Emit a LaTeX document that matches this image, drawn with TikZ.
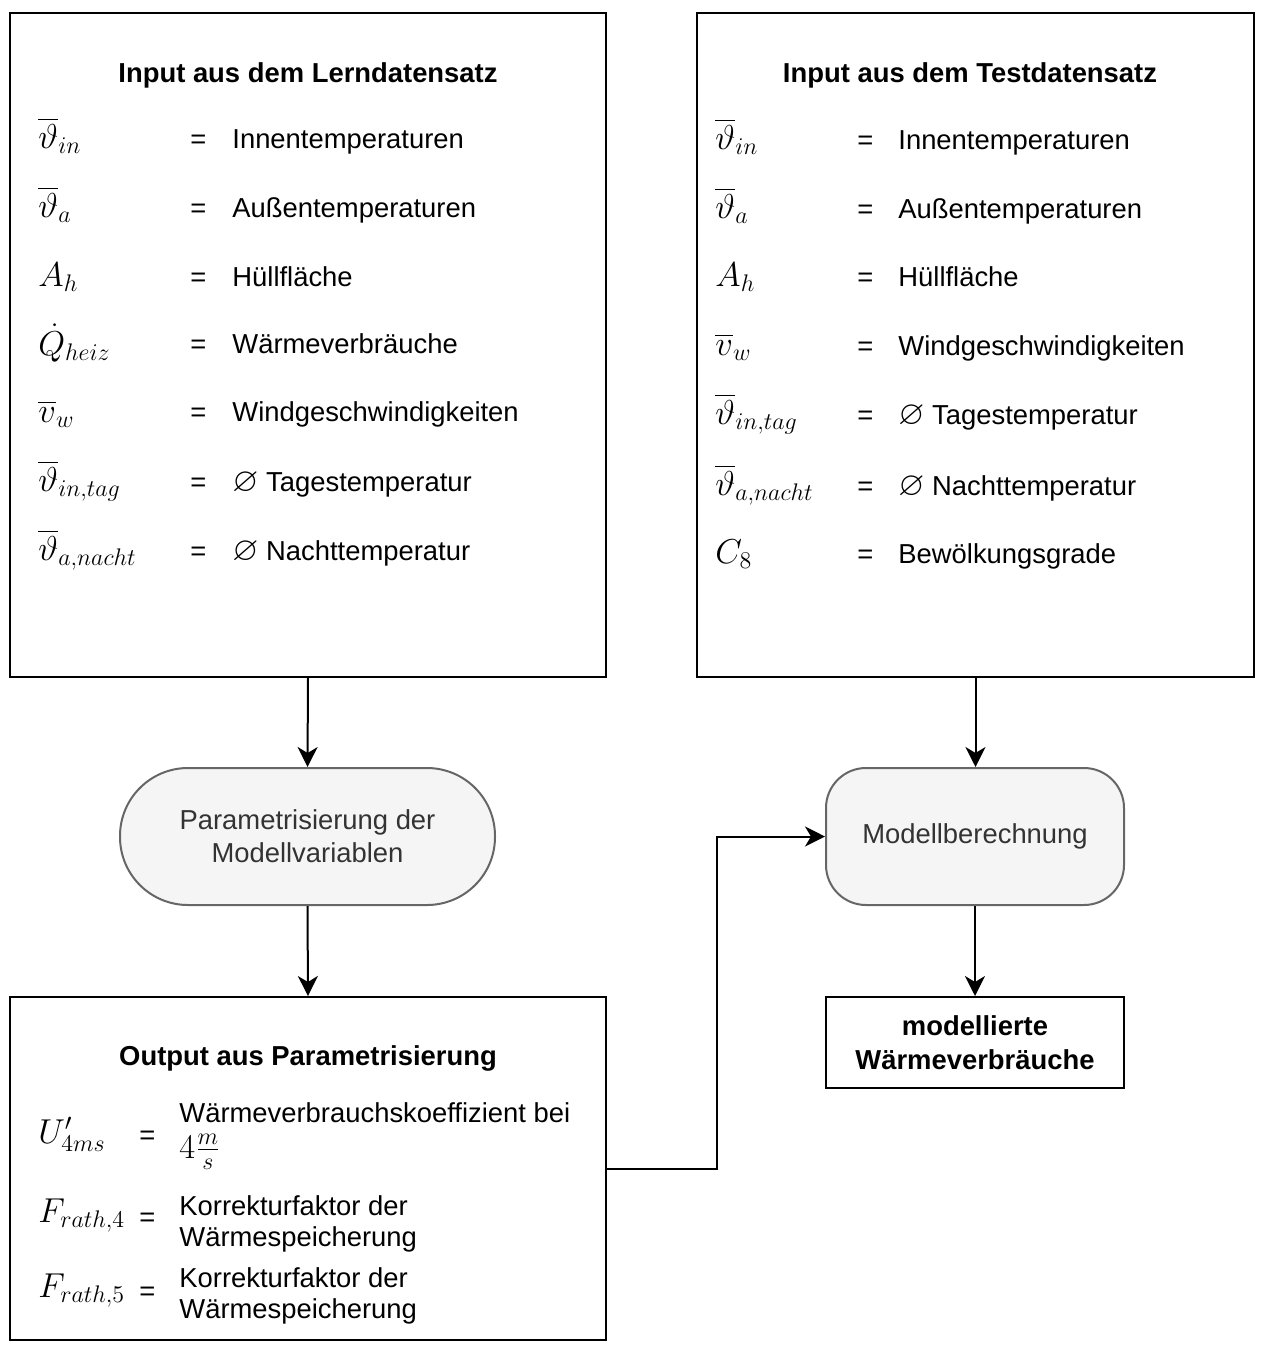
\documentclass[tikz,border=0pt]{standalone}
\usepackage{amssymb}
\usepackage{fontspec}
\setmainfont{Liberation Sans}
\usetikzlibrary{arrows.meta}
\definecolor{procfill}{HTML}{F5F5F5}
\definecolor{procdraw}{HTML}{666666}
\definecolor{proctext}{HTML}{333333}
\newcommand{\mfs}{\fontsize{16.8}{20}\selectfont}
\begin{document}
\begin{tikzpicture}[x=0.5pt,y=-0.5pt,
  font=\fontsize{13.7}{16.5}\selectfont,
  box/.style={draw=black, line width=1pt, inner sep=0pt},
  proc/.style={draw=procdraw, fill=procfill, line width=1pt, text=proctext, align=center, inner sep=0pt},
  ttl/.style={anchor=base, inner sep=0pt, font=\fontsize{13.7}{16.5}\selectfont\bfseries},
  txt/.style={anchor=base west, inner sep=0pt},
  mth/.style={anchor=base west, inner sep=0pt, font=\mfs},
  arr/.style={-{Stealth[length=10pt,width=10pt,inset=3pt]}, line width=1pt}
]
\useasboundingbox (0,0) rectangle (1263,1350);

% main boxes
\node[box, minimum width=298pt, minimum height=332pt] (learn) at (308,345) {};
\node[box, minimum width=278.5pt, minimum height=332pt] (test) at (975.5,345) {};
\node[proc, rounded corners=34pt, minimum width=187.5pt, minimum height=68.5pt] (param) at (307.5,836.5) {Parametrisierung der\\Modellvariablen};
\node[proc, rounded corners=20pt, minimum width=149pt, minimum height=68.5pt] (model) at (975,836.5) {Modellberechnung};
\node[box, minimum width=298pt, minimum height=171.5pt] (out) at (308,1168.5) {};
\node[box, minimum width=149pt, minimum height=45.5pt, align=center, font=\fontsize{13.7}{17}\selectfont\bfseries] (res) at (975,1042.5) {modellierte\\Wärmeverbräuche};

% titles
\node[ttl] (t1) at (308,82) {Input aus dem Lerndatensatz};
\node[ttl] (t2) at (970,82) {Input aus dem Testdatensatz};
\node[ttl] (t3) at (308,1065) {Output aus Parametrisierung};

% learning data rows
\node[mth] (l1s) at (38,148) {$\overline{\vartheta}_{in}$};
\node[txt] (l1e) at (190,148) {=};
\node[txt] (l1t) at (232,148) {Innentemperaturen};
\node[mth] (l2s) at (38,217) {$\overline{\vartheta}_{a}$};
\node[txt] (l2e) at (190,217) {=};
\node[txt] (l2t) at (232,217) {Außentemperaturen};
\node[mth] (l3s) at (38,286) {$A_h$};
\node[txt] (l3e) at (190,286) {=};
\node[txt] (l3t) at (232,286) {Hüllfläche};
\node[mth] (l4s) at (38,355) {$\dot{Q}_{heiz}$};
\node[txt] (l4e) at (190,353) {=};
\node[txt] (l4t) at (232,353) {Wärmeverbräuche};
\node[mth] (l5s) at (38,422) {$\overline{v}_{w}$};
\node[txt] (l5e) at (190,421) {=};
\node[txt] (l5t) at (232,421) {Windgeschwindigkeiten};
\node[mth] (l6s) at (38,491) {$\overline{\vartheta}_{in,tag}$};
\node[txt] (l6e) at (190,491) {=};
\node[txt] (l6t) at (232,491) {{\mfs$\varnothing$} Tagestemperatur};
\node[mth] (l7s) at (38,560) {$\overline{\vartheta}_{a,nacht}$};
\node[txt] (l7e) at (190,560) {=};
\node[txt] (l7t) at (232,560) {{\mfs$\varnothing$} Nachttemperatur};

% test data rows
\node[mth] (r1s) at (715,149) {$\overline{\vartheta}_{in}$};
\node[txt] (r1e) at (857,149) {=};
\node[txt] (r1t) at (898,149) {Innentemperaturen};
\node[mth] (r2s) at (715,218) {$\overline{\vartheta}_{a}$};
\node[txt] (r2e) at (857,218) {=};
\node[txt] (r2t) at (898,218) {Außentemperaturen};
\node[mth] (r3s) at (715,286) {$A_h$};
\node[txt] (r3e) at (857,286) {=};
\node[txt] (r3t) at (898,286) {Hüllfläche};
\node[mth] (r4s) at (715,355) {$\overline{v}_{w}$};
\node[txt] (r4e) at (857,355) {=};
\node[txt] (r4t) at (898,355) {Windgeschwindigkeiten};
\node[mth] (r5s) at (715,424) {$\overline{\vartheta}_{in,tag}$};
\node[txt] (r5e) at (857,424) {=};
\node[txt] (r5t) at (898,424) {{\mfs$\varnothing$} Tagestemperatur};
\node[mth] (r6s) at (715,495) {$\overline{\vartheta}_{a,nacht}$};
\node[txt] (r6e) at (857,495) {=};
\node[txt] (r6t) at (898,495) {{\mfs$\varnothing$} Nachttemperatur};
\node[mth] (r7s) at (715,563) {$C_8$};
\node[txt] (r7e) at (857,563) {=};
\node[txt] (r7t) at (898,563) {Bewölkungsgrade};

% output rows
\node[mth, font=\fontsize{17.5}{21}\selectfont] (o1s) at (38,1143) {$U'_{4ms}$};
\node[txt] (o1e) at (139,1144) {=};
\node[txt] (o1t) at (179,1122) {Wärmeverbrauchskoeffizient bei};
\node[mth, font=\fontsize{17.5}{21}\selectfont] (o1u) at (179,1158) {$4\frac{m}{s}$};
\node[mth] (o2s) at (38,1222) {$F_{rath,4}$};
\node[txt] (o2e) at (139,1226) {=};
\node[txt] (o2t) at (179,1215) {Korrekturfaktor der};
\node[txt] (o2u) at (179,1246) {Wärmespeicherung};
\node[mth] (o3s) at (38,1297) {$F_{rath,5}$};
\node[txt] (o3e) at (139,1300) {=};
\node[txt] (o3t) at (179,1287) {Korrekturfaktor der};
\node[txt] (o3u) at (179,1318) {Wärmespeicherung};

% connectors
\draw[arr] (learn.south) -- (param.north);
\draw[arr] (param.south) -- (out.north);
\draw[arr] (test.south) -- (test.south |- model.north);
\draw[arr] (model.south) -- (res.north);
\draw[arr] (out.east) -- ++(110,0) |- (model.west);
\end{tikzpicture}
\end{document}
